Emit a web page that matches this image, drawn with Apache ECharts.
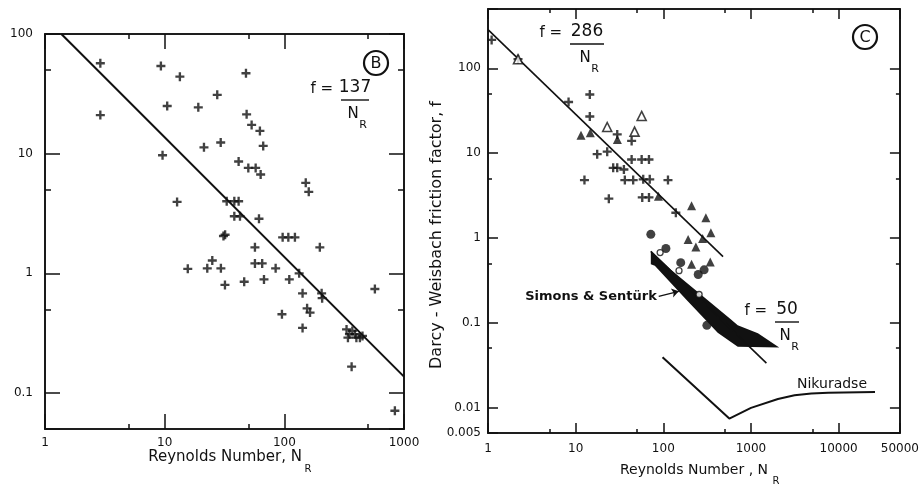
<!DOCTYPE html>
<html>
<head>
<meta charset="utf-8">
<title>Darcy-Weisbach friction factor vs Reynolds number</title>
<script src="https://cdn.jsdelivr.net/npm/echarts@6/dist/echarts.min.js"></script>
<style>
  html, body { margin: 0; padding: 0; background: #fff; }
  #chart { width: 922px; height: 486px; }
</style>
</head>
<body>
<div id="chart"></div>
<script>
// panel B: [Reynolds number, friction factor]
const plusB = [
  [2.9, 57], [2.9, 21], [9.3, 54], [13.4, 44], [47.8, 47], [27.5, 31], [10.5, 25], [19.1, 24.4],
  [48.4, 21.3], [53.3, 17.4], [62.5, 15.5], [66.6, 11.6], [21.3, 11.3], [29.4, 12.4], [9.6, 9.7],
  [41.5, 8.6], [50, 7.6], [57.6, 7.6], [63.4, 6.7], [151, 5.7], [160, 4.8], [12.7, 3.95], [33, 4.0],
  [38.2, 4.0], [41.5, 4.0], [38.2, 3.0], [42.6, 3.0], [61.4, 2.86], [32, 2.1], [31, 2.05], [96.8, 2.0],
  [108, 2.0], [122.6, 2.0], [56.8, 1.65], [198, 1.65], [15.6, 1.09], [22.7, 1.1], [25, 1.28], [29.5, 1.1],
  [31.9, 0.8], [46.2, 0.85], [56.8, 1.21], [65.3, 1.21], [67.6, 0.89], [84.6, 1.1], [110, 0.89],
  [133, 1.0], [142, 0.68], [205, 0.68], [207, 0.62], [155, 0.51], [164, 0.47], [95.5, 0.455],
  [142, 0.35], [571, 0.74], [331, 0.34], [350, 0.31], [389, 0.31], [428, 0.29], [340, 0.29],
  [400, 0.29], [450, 0.3], [370, 0.33], [365, 0.166], [839, 0.071]
];
const line137 = [[1.37, 100], [1000, 0.137]];

// panel C
const plusC = [
  [1.1, 216], [2.2, 128], [8.3, 40], [14.5, 49], [14.5, 27], [29.8, 16.6], [43.5, 13.9], [17.6, 9.7],
  [22.9, 10.4], [43.5, 8.4], [56.6, 8.4], [68.6, 8.4], [26.8, 6.7], [29.8, 6.7], [35.5, 6.4],
  [12.6, 4.8], [36.4, 4.8], [45.3, 4.8], [59, 4.9], [70, 4.9], [113, 4.8], [23.9, 2.9], [57.5, 3.0],
  [68.6, 3.0], [139, 1.98]
];
const triFilledC = [
  [11.5, 16.2], [14.7, 17.4], [29.9, 14.5], [88, 3.1], [210, 2.4], [306, 1.73], [349, 1.15],
  [192, 0.96], [281, 0.98], [235, 0.78], [210, 0.49], [343, 0.52]
];
const triOpenC = [[2.2, 128], [56.6, 27.4], [22.9, 20.3], [47, 17.9]];
const dotC = [[72, 1.1], [107, 0.75], [158, 0.51], [250, 0.37], [292, 0.42], [314, 0.093]];
const ringC = [[92, 0.67], [151, 0.41], [256, 0.215]];
const line286 = [[1, 286], [480, 0.6]];
const line50 = [[72, 0.694], [1500, 0.0333]];
const simonsBand = [
  [72, 0.70], [122, 0.42], [268, 0.215], [592, 0.109], [706, 0.093], [1200, 0.075], [2100, 0.051],
  [706, 0.052], [417, 0.076], [189, 0.18], [80, 0.47], [72, 0.49]
];
const nikuradse = [
  [98, 0.039], [566, 0.0074], [1000, 0.0099], [2030, 0.0126], [3140, 0.0139], [4880, 0.0146],
  [7600, 0.0149], [26000, 0.0152]
];
const simonsArrow = [[88.6, 0.204], [150, 0.234]];

// tick labels
const xLabelsB = [1, 10, 100, 1000];
const yLabelsB = [0.1, 1, 10, 100];
const xLabelsC = [1, 10, 100, 1000, 10000, 50000];
const yLabelsC = [0.005, 0.01, 0.1, 1, 10, 100];

const ink = '#111';
const FONT = '"DejaVu Sans", sans-serif';
const plusSymbol = 'path://M3.7,0H6.3V3.7H10V6.3H6.3V10H3.7V6.3H0V3.7H3.7Z';

const pick = (labels) => (v) => (labels.some((l) => Math.abs(l - v) / l < 1e-6) ? String(v) : '');

// a box of log axes: main ticks at decades, short ticks at the 5s via a second axis scaled by 2
function boxAxes(dir, grid, min, max, labels, longTick, shortTick, margin) {
  const sides = dir === 'x' ? ['bottom', 'top'] : ['left', 'right'];
  const base = { type: 'log', logBase: 10, gridIndex: grid, splitLine: { show: false }, splitArea: { show: false } };
  const axes = [];
  sides.forEach((pos, i) => {
    axes.push({
      ...base, min, max, position: pos,
      axisLine: { show: true, onZero: false, lineStyle: { color: ink, width: 1.6 } },
      axisTick: { show: true, inside: true, length: longTick, lineStyle: { color: ink, width: 1.5 } },
      axisLabel: i === 0
        ? { show: true, margin, color: ink, fontFamily: FONT, fontSize: 12, formatter: pick(labels) }
        : { show: false }
    });
    axes.push({
      ...base, min: min * 2, max: max * 2, position: pos,
      axisLine: { show: true, onZero: false, lineStyle: { color: ink, width: 1.6 } },
      axisTick: { show: true, inside: true, length: shortTick, lineStyle: { color: ink, width: 1.5 } },
      axisLabel: { show: false }
    });
  });
  return axes;
}

const text = (x, y, str, size, extra) => ({
  type: 'text', x, y,
  style: Object.assign({
    text: str, font: size + 'px ' + FONT, fill: ink,
    align: 'center', verticalAlign: 'middle', textAlign: 'center', textVerticalAlign: 'middle'
  }, extra || {})
});
const rule = (x1, y1, x2, y2, w) => ({
  type: 'line', shape: { x1, y1, x2, y2 }, style: { stroke: ink, lineWidth: w || 1.5 }
});
const ring = (cx, cy, letter) => [
  { type: 'circle', shape: { cx, cy, r: 12 }, style: { fill: 'none', stroke: ink, lineWidth: 2.2 } },
  text(cx, cy + 1, letter, 16)
];
// f = num / N_R
const fraction = (x, y, num, barW) => [
  text(x, y, 'f =', 15, { align: 'right', textAlign: 'right' }),
  text(x + 8 + barW / 2, y - 1, num, 17),
  rule(x + 8, y + 11, x + 8 + barW, y + 11, 1.4),
  text(x + 8 + barW / 2 - 2, y + 25, 'N', 15),
  text(x + 8 + barW / 2 + 8, y + 36, 'R', 11)
];

const chart = echarts.init(document.getElementById('chart'), null, { renderer: 'canvas' });

const option = {
  backgroundColor: '#fff',
  animation: false,
  grid: [
    { left: 45, top: 34, width: 359, height: 395 },
    { left: 488, top: 9, width: 412, height: 424 }
  ],
  xAxis: [
    ...boxAxes('x', 0, 1, 1000, xLabelsB, 15, 5, 8),
    ...boxAxes('x', 1, 1, 50000, xLabelsC, 10, 4, 10)
  ],
  yAxis: [
    ...boxAxes('y', 0, 0.05, 100, yLabelsB, 15, 6, 12),
    ...boxAxes('y', 1, 0.005, 500, yLabelsC, 10, 4, 7)
  ],
  series: [
    {
      type: 'line', xAxisIndex: 0, yAxisIndex: 0, data: line137, symbol: 'none',
      lineStyle: { color: ink, width: 2 }, silent: true
    },
    {
      type: 'scatter', xAxisIndex: 0, yAxisIndex: 0, data: plusB, symbol: plusSymbol,
      symbolSize: 9, itemStyle: { color: ink }, silent: true
    },
    {
      type: 'line', xAxisIndex: 4, yAxisIndex: 4, data: line286, symbol: 'none',
      lineStyle: { color: ink, width: 1.6 }, silent: true
    },
    {
      type: 'line', xAxisIndex: 4, yAxisIndex: 4, data: line50, symbol: 'none',
      lineStyle: { color: ink, width: 1.6 }, silent: true
    },
    {
      type: 'line', xAxisIndex: 4, yAxisIndex: 4, data: nikuradse, symbol: 'none',
      lineStyle: { color: ink, width: 2 }, silent: true
    },
    {
      type: 'custom', xAxisIndex: 4, yAxisIndex: 4, data: simonsBand, silent: true, z: 3,
      renderItem: (params, api) => {
        if (params.dataIndex !== 0) return null;
        return {
          type: 'polygon',
          shape: { points: simonsBand.map((p) => api.coord(p)) },
          style: { fill: ink }
        };
      }
    },
    {
      type: 'scatter', xAxisIndex: 4, yAxisIndex: 4, data: plusC, symbol: plusSymbol,
      symbolSize: 9, itemStyle: { color: ink }, silent: true, z: 4
    },
    {
      type: 'scatter', xAxisIndex: 4, yAxisIndex: 4, data: triFilledC, symbol: 'triangle',
      symbolSize: 9, itemStyle: { color: ink }, silent: true, z: 4
    },
    {
      type: 'scatter', xAxisIndex: 4, yAxisIndex: 4, data: triOpenC, symbol: 'triangle',
      symbolSize: 9, itemStyle: { color: '#fff', borderColor: ink, borderWidth: 1.6 }, silent: true, z: 4
    },
    {
      type: 'scatter', xAxisIndex: 4, yAxisIndex: 4, data: dotC, symbol: 'circle',
      symbolSize: 9, itemStyle: { color: ink }, silent: true, z: 4,
      markLine: {
        silent: true, symbol: ['none', 'arrow'], symbolSize: 7, label: { show: false },
        lineStyle: { color: ink, width: 1.3, type: 'solid' },
        data: [[{ coord: simonsArrow[0] }, { coord: simonsArrow[1] }]]
      }
    },
    {
      type: 'scatter', xAxisIndex: 4, yAxisIndex: 4, data: ringC, symbol: 'circle',
      symbolSize: 6, itemStyle: { color: '#fff', borderColor: ink, borderWidth: 1.3 }, silent: true, z: 5
    }
  ],
  graphic: [
    ...ring(376, 63, 'B'),
    ...ring(865, 37, 'C'),
    ...fraction(333, 89, '137', 28),
    ...fraction(562, 33, '286', 34),
    ...fraction(767, 311, '50', 24),
    text(591, 297, 'Simons & Sentürk', 13, { font: 'bold 13px ' + FONT }),
    text(832, 384, 'Nikuradse', 14),
    text(302, 457, 'Reynolds Number, N', 15, { align: 'right', textAlign: 'right' }),
    text(308, 469, 'R', 10),
    text(768, 470, 'Reynolds Number , N', 14, { align: 'right', textAlign: 'right' }),
    text(776, 481, 'R', 10),
    Object.assign(text(437, 235, 'Darcy - Weisbach friction factor, f', 16), { rotation: Math.PI / 2 })
  ]
};

chart.setOption(option);
</script>
</body>
</html>
